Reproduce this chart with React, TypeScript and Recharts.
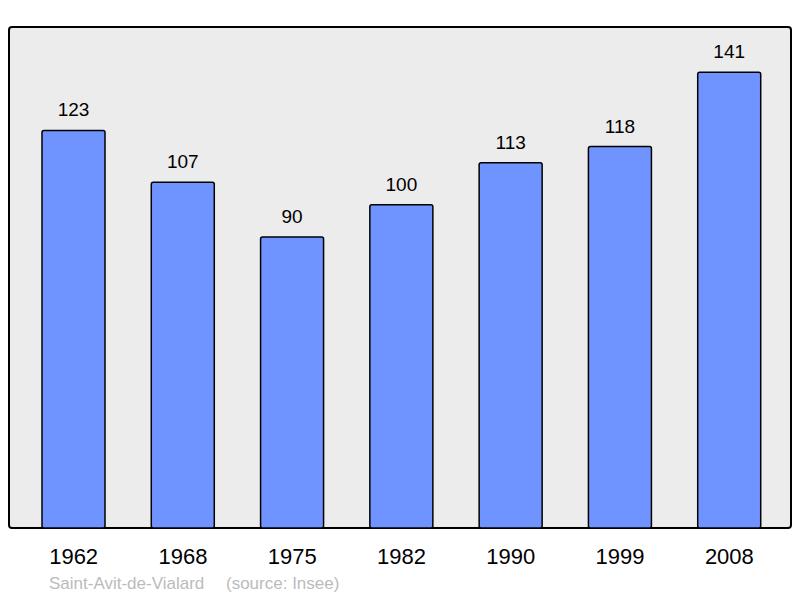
import React from "react";
import { BarChart, Bar, XAxis, YAxis, ReferenceArea, LabelList } from "recharts";

const years = ["1962", "1968", "1975", "1982", "1990", "1999", "2008"];
const population = [123, 107, 90, 100, 113, 118, 141];

const data = years.map((year, i) => ({ year, value: population[i] }));

const font = "'Liberation Sans', Arial, sans-serif";

const App: React.FC = () => {
  return (
    <div style={{ position: "absolute", left: 0, top: 0, width: 800, height: 598, fontFamily: font }}>
      <BarChart
        width={800}
        height={598}
        data={data}
        margin={{ top: 27, right: 9, bottom: 40, left: 9 }}
      >
        <XAxis
          dataKey="year"
          axisLine={false}
          tickLine={false}
          tickSize={0}
          tickMargin={20}
          height={30}
          padding={{ left: 10, right: 7 }}
          tick={{ fontSize: 22, fill: "#000", fontFamily: font }}
          interval={0}
        />
        {/* plain axis without padding, only used to span the frame */}
        <XAxis xAxisId="frame" type="number" domain={[0, 1]} hide />
        <YAxis hide domain={[0, 155]} />
        <ReferenceArea
          xAxisId="frame"
          y1={0}
          y2={155}
          fill="#ececec"
          fillOpacity={1}
          stroke="#000"
          strokeWidth={2}
          radius={3}
        />
        <Bar
          dataKey="value"
          fill="#7094ff"
          stroke="#000"
          strokeWidth={1.5}
          barSize={63}
          radius={2}
          isAnimationActive={false}
        >
          <LabelList
            dataKey="value"
            position="top"
            offset={14}
            fill="#000"
            fontSize={19}
            fontFamily={font}
          />
        </Bar>
      </BarChart>
      <div
        style={{
          position: "absolute",
          left: 49,
          top: 574,
          fontSize: 17,
          color: "#bbbbbb",
          whiteSpace: "pre",
        }}
      >
        Saint-Avit-de-Vialard
      </div>
      <div
        style={{
          position: "absolute",
          left: 226,
          top: 574,
          fontSize: 17,
          color: "#bbbbbb",
          whiteSpace: "pre",
        }}
      >
        (source: Insee)
      </div>
    </div>
  );
};

export default App;
